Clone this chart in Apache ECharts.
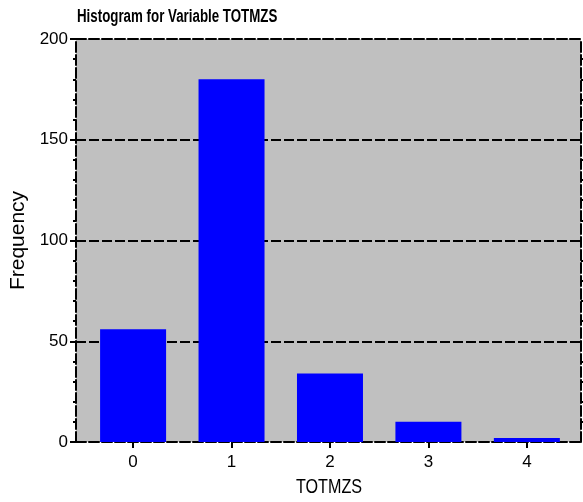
<!DOCTYPE html>
<html>
<head>
<meta charset="utf-8">
<script src="https://cdn.jsdelivr.net/npm/echarts@6/dist/echarts.min.js"></script>
<style>
  html, body { margin: 0; padding: 0; background: #fff; }
  #chart { width: 583px; height: 502px; }
</style>
</head>
<body>
<div id="chart"></div>
<script>
// histogram data
const categories = [0, 1, 2, 3, 4]
const frequency = [56, 180, 34, 10, 2]
const yTicks = [0, 50, 100, 150, 200]

const font = 'Arial, "Liberation Sans", sans-serif'
const dash = [10, 3]

const chart = echarts.init(document.getElementById('chart'))

chart.setOption({
  animation: false,
  // condensed title and x name (the original font is narrow)
  graphic: [
    {
      type: 'text',
      x: 77,
      y: 8,
      scaleX: 0.74,
      style: {
        text: 'Histogram for Variable TOTMZS',
        font: 'bold 18px ' + font,
        fill: '#000',
        verticalAlign: 'top',
      },
    },
    {
      type: 'text',
      x: 329,
      y: 487,
      scaleX: 0.77,
      style: {
        text: 'TOTMZS',
        font: '21px ' + font,
        fill: '#000',
        align: 'center',
        verticalAlign: 'middle',
      },
    },
  ],
  grid: {
    left: 76,
    right: 2,
    top: 39,
    bottom: 60,
    show: true,
    backgroundColor: '#c0c0c0',
    borderWidth: 0,
    outerBoundsMode: 'none',
  },
  xAxis: [
    {
      type: 'value',
      min: -0.58,
      max: 4.55,
      axisLine: { show: true, onZero: false, lineStyle: { color: '#000', width: 2, type: dash } },
      axisTick: { show: true, length: 6, customValues: categories, lineStyle: { color: '#000', width: 2 } },
      axisLabel: { customValues: categories, fontFamily: font, fontSize: 17, color: '#000', margin: 12 },
      splitLine: { show: false },
    },
    {
      // top border
      type: 'value',
      position: 'top',
      min: -0.58,
      max: 4.55,
      axisLine: { show: true, onZero: false, lineStyle: { color: '#000', width: 2, type: dash } },
      axisTick: { show: false },
      axisLabel: { show: false },
      splitLine: { show: false },
    },
  ],
  yAxis: [
    {
      type: 'value',
      min: 0,
      max: 200,
      interval: 50,
      name: 'Frequency',
      nameLocation: 'middle',
      nameGap: 42,
      nameTextStyle: { fontFamily: font, fontSize: 21, color: '#000' },
      axisLine: { show: true, onZero: false, lineStyle: { color: '#000', width: 2, type: dash } },
      axisTick: { show: true, length: 6, lineStyle: { color: '#000', width: 2 } },
      minorTick: { show: true, splitNumber: 5, length: 3, lineStyle: { color: '#000', width: 2 } },
      axisLabel: { customValues: yTicks, fontFamily: font, fontSize: 17, color: '#000', margin: 8 },
      splitLine: { show: true, lineStyle: { color: '#000', type: dash, width: 2 } },
    },
    {
      // right border
      type: 'value',
      position: 'right',
      min: 0,
      max: 200,
      interval: 50,
      axisLine: { show: true, onZero: false, lineStyle: { color: '#000', width: 2, type: dash } },
      axisTick: { show: false },
      minorTick: { show: true, splitNumber: 5, length: 2, lineStyle: { color: '#000', width: 2 } },
      axisLabel: { show: false },
      splitLine: { show: false },
    },
  ],
  series: [
    {
      type: 'bar',
      data: categories.map((c, i) => [c, frequency[i]]),
      barWidth: 66,
      itemStyle: { color: '#0000ff' },
    },
  ],
})
</script>
</body>
</html>
